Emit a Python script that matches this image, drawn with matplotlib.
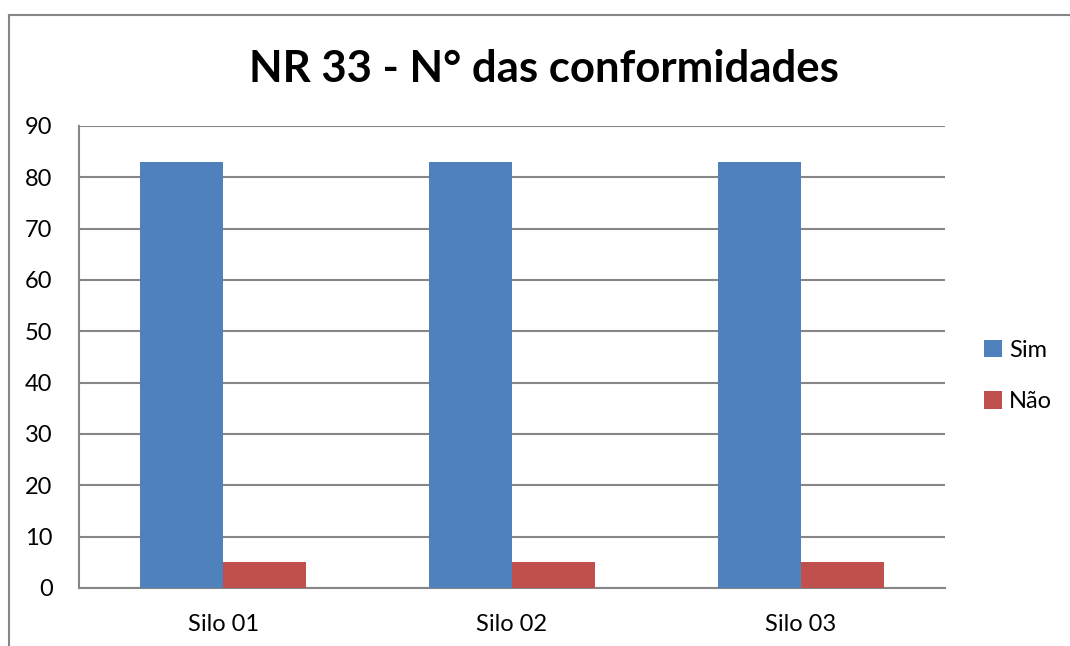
import numpy as np
import matplotlib
matplotlib.use('Agg')
import matplotlib.pyplot as plt
from matplotlib.lines import Line2D

plt.rcParams['font.family'] = ['Lato', 'DejaVu Sans']

# Dados
categorias = ['Silo 01', 'Silo 02', 'Silo 03']
sim = [83, 83, 83]
nao = [5, 5, 5]
yticks = [0, 10, 20, 30, 40, 50, 60, 70, 80, 90]

fig = plt.figure(figsize=(10.7, 6.46), dpi=100)
ax = fig.add_axes([0.0738, 0.0898, 0.8094, 0.7152])

x = np.arange(len(categorias))
w = 0.2875
ax.bar(x - w / 2, sim, w, color='#4F81BD', label='Sim', zorder=3)
ax.bar(x + w / 2, nao, w, color='#C0504D', label='Não', zorder=3)

ax.set_xlim(-0.5, len(categorias) - 0.5)
ax.set_ylim(0, 90)
ax.set_yticks(yticks)
ax.set_xticks(x)
ax.set_xticklabels(categorias)
ax.tick_params(axis='both', length=0, labelsize=17, colors='black')
ax.tick_params(axis='y', pad=19)
ax.tick_params(axis='x', pad=19)
ax.yaxis.grid(True, color='#868686', linewidth=1.5, zorder=0)

for s in ['top', 'right']:
    ax.spines[s].set_visible(False)
for s in ['left', 'bottom']:
    ax.spines[s].set_color('#868686')
    ax.spines[s].set_linewidth(1.5)

fig.text(0.508, 0.893, 'NR 33 - N° das conformidades', ha='center', va='center',
         fontsize=31.5, fontweight='bold')

leg = ax.legend(loc='center left', bbox_to_anchor=(0.9, 0.418),
                bbox_transform=fig.transFigure, frameon=False, fontsize=17,
                handlelength=0.75, handleheight=0.75, handletextpad=0.3,
                labelspacing=1.3)

# Borda do gráfico
fig.add_artist(Line2D([9 / 1070, 9 / 1070], [0, 1 - 15 / 646],
                      transform=fig.transFigure, color='#868686', linewidth=1.5))
fig.add_artist(Line2D([9 / 1070, 1], [1 - 15 / 646, 1 - 15 / 646],
                      transform=fig.transFigure, color='#868686', linewidth=1.5))

fig.savefig('out.png', dpi=100)
